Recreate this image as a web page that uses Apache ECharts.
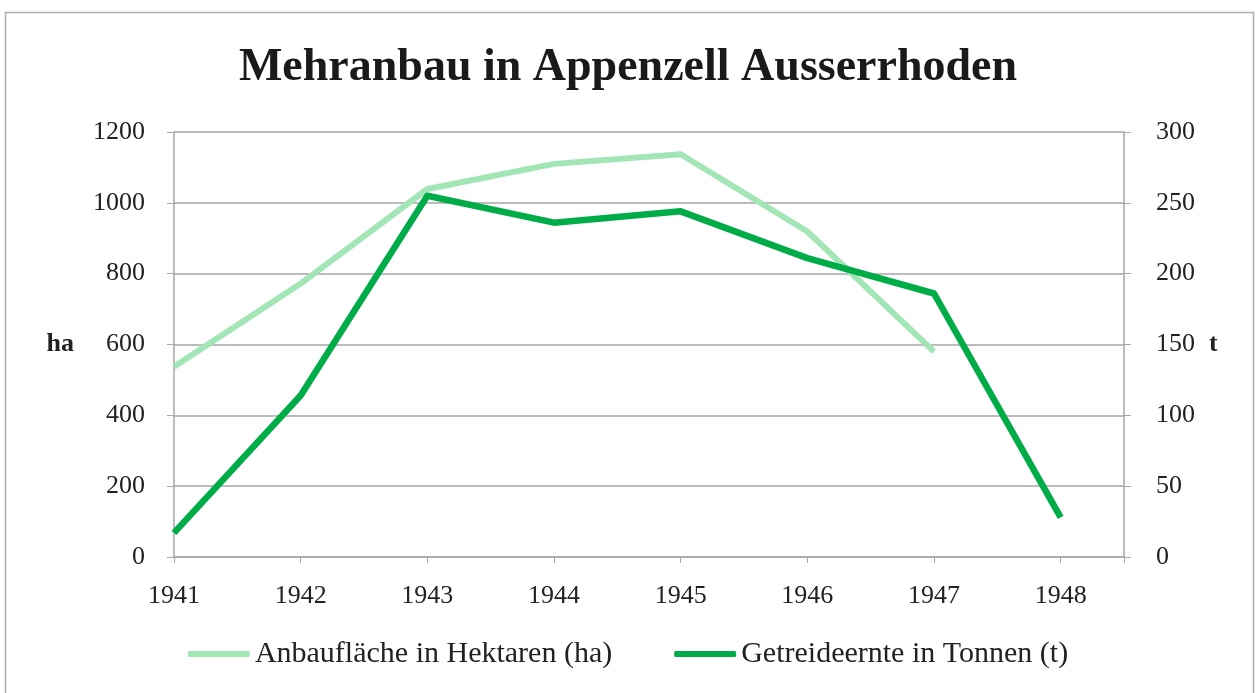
<!DOCTYPE html>
<html>
<head>
<meta charset="utf-8">
<script src="https://cdn.jsdelivr.net/npm/echarts@6/dist/echarts.min.js"></script>
<style>
html,body{margin:0;padding:0;background:#fff;}
#c{width:1256px;height:693px;}
</style>
</head>
<body>
<div id="c"></div>
<script>
const years = [1941, 1942, 1943, 1944, 1945, 1946, 1947, 1948];
const anbauflaecheHa = [537, 772, 1039, 1110, 1137, 919, 580, null];
const getreideernteT = [17, 114, 255, 236, 244, 211, 186, 28];
const leftTicks = [0, 200, 400, 600, 800, 1000, 1200];
const rightTicks = [0, 50, 100, 150, 200, 250, 300];
const seriesNames = ['Anbaufläche in Hektaren (ha)', 'Getreideernte in Tonnen (t)'];

const FONT = '"Liberation Serif", "DejaVu Serif", serif';
const GRID = '#a6a6a6';
const TXT = '#222';

const chart = echarts.init(document.getElementById('c'), null, {renderer: 'canvas'});
chart.setOption({
  backgroundColor: '#fff',
  animation: false,
  textStyle: {fontFamily: FONT},
  title: {
    text: 'Mehranbau in Appenzell Ausserrhoden',
    left: 'center', top: 40,
    textStyle: {fontFamily: FONT, fontSize: 46, fontWeight: 'bold', color: '#1a1a1a'}
  },
  graphic: [{
    type: 'rect', left: 3, top: 10, silent: true,
    shape: {width: 1248, height: 700},
    style: {fill: 'none', stroke: '#b0b0b0', lineWidth: 1.5}
  }],
  legend: {
    bottom: 19, left: 'center',
    itemWidth: 62, itemHeight: 6, itemGap: 62,
    icon: 'roundRect',
    textStyle: {fontFamily: FONT, fontSize: 30, color: TXT, padding: [0, 0, 0, 0]},
    data: seriesNames
  },
  grid: {left: 174, right: 132, top: 132, bottom: 136, containLabel: false},
  xAxis: {
    type: 'value', min: years[0], max: years[years.length - 1] + 0.5, interval: 1,
    axisLine: {show: true, lineStyle: {color: GRID, width: 1.5}},
    axisTick: {show: true, length: 6, lineStyle: {color: GRID}},
    splitLine: {show: false},
    axisLabel: {
      fontFamily: FONT, fontSize: 26, color: TXT, margin: 26,
      formatter: v => (Number.isInteger(v) && years.includes(v)) ? String(v) : ''
    }
  },
  yAxis: [{
    type: 'value', min: leftTicks[0], max: leftTicks[leftTicks.length - 1], interval: 200,
    position: 'left',
    name: 'ha', nameLocation: 'middle', nameGap: 100, nameRotate: 0,
    nameTextStyle: {fontFamily: FONT, fontSize: 26, fontWeight: 'bold', color: TXT},
    axisLine: {show: true, lineStyle: {color: GRID, width: 1.5}},
    axisTick: {show: true, length: 7, lineStyle: {color: GRID}},
    splitLine: {show: true, lineStyle: {color: GRID, width: 1.5}},
    axisLabel: {fontFamily: FONT, fontSize: 26, color: TXT, margin: 29, formatter: v => String(v)}
  }, {
    type: 'value', min: rightTicks[0], max: rightTicks[rightTicks.length - 1], interval: 50,
    position: 'right',
    name: 't', nameLocation: 'middle', nameGap: 85, nameRotate: 0,
    nameTextStyle: {fontFamily: FONT, fontSize: 26, fontWeight: 'bold', color: TXT},
    axisLine: {show: true, lineStyle: {color: GRID, width: 1.5}},
    axisTick: {show: true, length: 7, lineStyle: {color: GRID}},
    splitLine: {show: false},
    axisLabel: {fontFamily: FONT, fontSize: 26, color: TXT, margin: 32, formatter: v => String(v)}
  }],
  series: [{
    name: seriesNames[0], type: 'line', yAxisIndex: 0,
    data: years.map((y, i) => [y, anbauflaecheHa[i]]),
    showSymbol: false, symbol: 'none',
    lineStyle: {color: '#a3e6b6', width: 6, join: 'round'},
    itemStyle: {color: '#a3e6b6'},
    z: 2
  }, {
    name: seriesNames[1], type: 'line', yAxisIndex: 1,
    data: years.map((y, i) => [y, getreideernteT[i]]),
    showSymbol: false, symbol: 'none',
    lineStyle: {color: '#00ac47', width: 6.5, join: 'round'},
    itemStyle: {color: '#00ac47'},
    z: 3
  }]
});
</script>
</body>
</html>
